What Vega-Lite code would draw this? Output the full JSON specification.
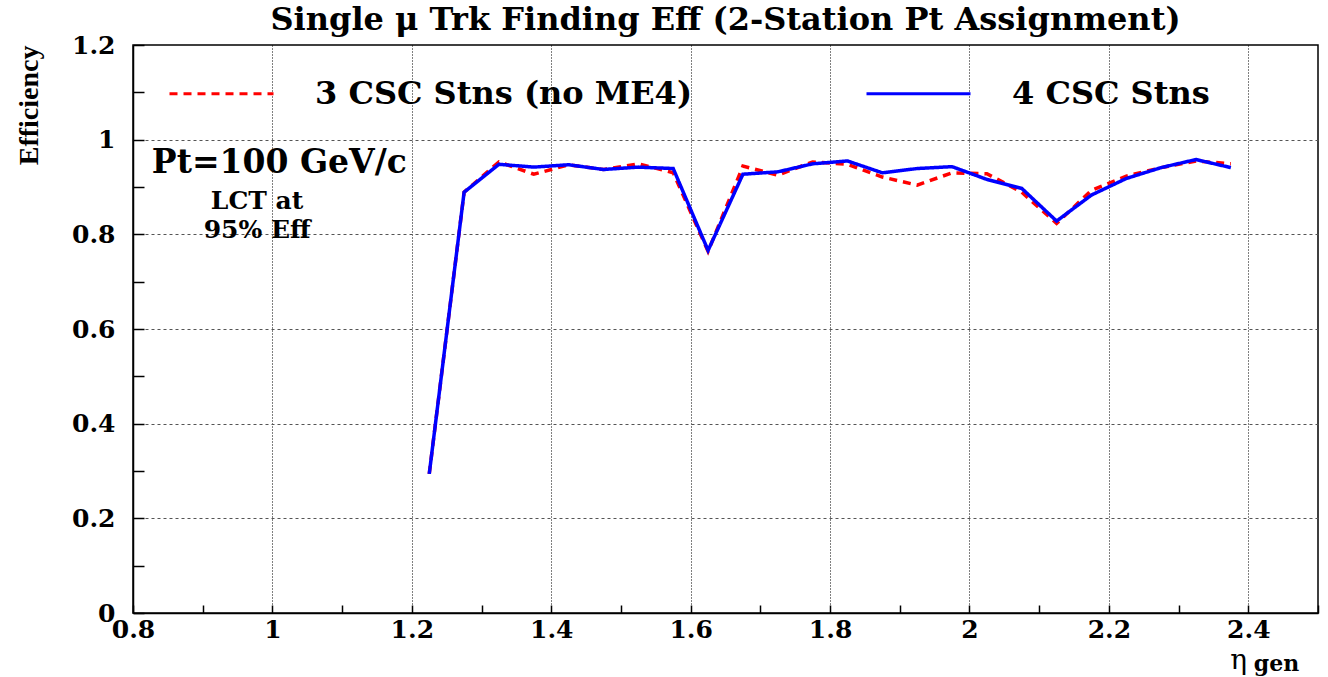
{
  "$schema": "https://vega.github.io/schema/vega-lite/v6.json",
  "width": 1185,
  "height": 568,
  "autosize": "none",
  "padding": {"left": 133, "top": 45, "right": 10, "bottom": 64},
  "background": "white",
  "title": {
    "text": "Single μ Trk Finding Eff (2-Station Pt Assignment)",
    "font": "DejaVu Serif",
    "fontWeight": "bold",
    "fontSize": 32,
    "color": "black",
    "anchor": "middle",
    "offset": -4
  },
  "config": {
    "view": {"stroke": "black", "strokeWidth": 1.5},
    "axis": {
      "labelFont": "DejaVu Serif",
      "labelFontWeight": "bold",
      "labelFontSize": 25,
      "labelColor": "black",
      "domainColor": "black",
      "tickColor": "black",
      "gridColor": "black"
    }
  },
  "data": {
    "values": [
      {"eta": 1.225, "eff": 0.294, "series": "3 CSC Stns (no ME4)"},
      {"eta": 1.275, "eff": 0.889, "series": "3 CSC Stns (no ME4)"},
      {"eta": 1.325, "eff": 0.953, "series": "3 CSC Stns (no ME4)"},
      {"eta": 1.375, "eff": 0.927, "series": "3 CSC Stns (no ME4)"},
      {"eta": 1.425, "eff": 0.947, "series": "3 CSC Stns (no ME4)"},
      {"eta": 1.475, "eff": 0.937, "series": "3 CSC Stns (no ME4)"},
      {"eta": 1.525, "eff": 0.949, "series": "3 CSC Stns (no ME4)"},
      {"eta": 1.575, "eff": 0.930, "series": "3 CSC Stns (no ME4)"},
      {"eta": 1.625, "eff": 0.764, "series": "3 CSC Stns (no ME4)"},
      {"eta": 1.675, "eff": 0.944, "series": "3 CSC Stns (no ME4)"},
      {"eta": 1.725, "eff": 0.925, "series": "3 CSC Stns (no ME4)"},
      {"eta": 1.775, "eff": 0.953, "series": "3 CSC Stns (no ME4)"},
      {"eta": 1.825, "eff": 0.948, "series": "3 CSC Stns (no ME4)"},
      {"eta": 1.875, "eff": 0.921, "series": "3 CSC Stns (no ME4)"},
      {"eta": 1.925, "eff": 0.904, "series": "3 CSC Stns (no ME4)"},
      {"eta": 1.975, "eff": 0.930, "series": "3 CSC Stns (no ME4)"},
      {"eta": 2.025, "eff": 0.928, "series": "3 CSC Stns (no ME4)"},
      {"eta": 2.075, "eff": 0.889, "series": "3 CSC Stns (no ME4)"},
      {"eta": 2.125, "eff": 0.823, "series": "3 CSC Stns (no ME4)"},
      {"eta": 2.175, "eff": 0.893, "series": "3 CSC Stns (no ME4)"},
      {"eta": 2.225, "eff": 0.923, "series": "3 CSC Stns (no ME4)"},
      {"eta": 2.275, "eff": 0.941, "series": "3 CSC Stns (no ME4)"},
      {"eta": 2.325, "eff": 0.955, "series": "3 CSC Stns (no ME4)"},
      {"eta": 2.375, "eff": 0.949, "series": "3 CSC Stns (no ME4)"},
      {"eta": 1.225, "eff": 0.294, "series": "4 CSC Stns"},
      {"eta": 1.275, "eff": 0.889, "series": "4 CSC Stns"},
      {"eta": 1.325, "eff": 0.948, "series": "4 CSC Stns"},
      {"eta": 1.375, "eff": 0.942, "series": "4 CSC Stns"},
      {"eta": 1.425, "eff": 0.947, "series": "4 CSC Stns"},
      {"eta": 1.475, "eff": 0.937, "series": "4 CSC Stns"},
      {"eta": 1.525, "eff": 0.942, "series": "4 CSC Stns"},
      {"eta": 1.575, "eff": 0.939, "series": "4 CSC Stns"},
      {"eta": 1.625, "eff": 0.766, "series": "4 CSC Stns"},
      {"eta": 1.675, "eff": 0.927, "series": "4 CSC Stns"},
      {"eta": 1.725, "eff": 0.932, "series": "4 CSC Stns"},
      {"eta": 1.775, "eff": 0.949, "series": "4 CSC Stns"},
      {"eta": 1.825, "eff": 0.955, "series": "4 CSC Stns"},
      {"eta": 1.875, "eff": 0.930, "series": "4 CSC Stns"},
      {"eta": 1.925, "eff": 0.939, "series": "4 CSC Stns"},
      {"eta": 1.975, "eff": 0.943, "series": "4 CSC Stns"},
      {"eta": 2.025, "eff": 0.916, "series": "4 CSC Stns"},
      {"eta": 2.075, "eff": 0.897, "series": "4 CSC Stns"},
      {"eta": 2.125, "eff": 0.828, "series": "4 CSC Stns"},
      {"eta": 2.175, "eff": 0.883, "series": "4 CSC Stns"},
      {"eta": 2.225, "eff": 0.918, "series": "4 CSC Stns"},
      {"eta": 2.275, "eff": 0.941, "series": "4 CSC Stns"},
      {"eta": 2.325, "eff": 0.958, "series": "4 CSC Stns"},
      {"eta": 2.375, "eff": 0.941, "series": "4 CSC Stns"}
    ]
  },
  "layer": [
    {
      "mark": {"type": "line", "clip": true},
      "encoding": {
        "x": {
          "field": "eta",
          "type": "quantitative",
          "scale": {"domain": [0.8, 2.5], "nice": false, "zero": false},
          "axis": {
            "title": null,
            "values": [0.8, 0.85, 0.9, 0.95, 1, 1.05, 1.1, 1.15, 1.2, 1.25, 1.3, 1.35, 1.4, 1.45, 1.5, 1.55, 1.6, 1.65, 1.7, 1.75, 1.8, 1.85, 1.9, 1.95, 2, 2.05, 2.1, 2.15, 2.2, 2.25, 2.3, 2.35, 2.4, 2.45, 2.5],
            "format": "~g",
            "labelExpr": "abs(datum.value*5 - round(datum.value*5)) < 0.000001 ? datum.label : ''",
            "ticks": true,
            "tickSize": -8,
            "tickWidth": 1.5,
            "grid": true,
            "gridDash": [1, 2],
            "gridWidth": 1,
            "gridOpacity": {"condition": {"test": "abs(datum.value*5 - round(datum.value*5)) < 0.000001 && datum.value > 0.81 && datum.value < 2.49", "value": 1}, "value": 0},
            "labelPadding": 12,
            "labelBaseline": "top",
            "domainWidth": 1.5,
            "labelFlush": false,
            "labelOverlap": false
          }
        },
        "y": {
          "field": "eff",
          "type": "quantitative",
          "scale": {"domain": [0, 1.2], "nice": false, "zero": false},
          "axis": {
            "title": "Efficiency",
            "titleFont": "Liberation Serif",
            "titleFontWeight": "bold",
            "titleFontSize": 28,
            "titleColor": "black",
            "titleAngle": -90,
            "titleAlign": "right",
            "titleBaseline": "middle",
            "titleX": -104,
            "titleY": 0,
            "values": [0, 0.05, 0.1, 0.15, 0.2, 0.25, 0.3, 0.35, 0.4, 0.45, 0.5, 0.55, 0.6, 0.65, 0.7, 0.75, 0.8, 0.85, 0.9, 0.95, 1, 1.05, 1.1, 1.15, 1.2],
            "format": "~g",
            "labelExpr": "abs(datum.value*5 - round(datum.value*5)) < 0.000001 ? datum.label : ''",
            "ticks": true,
            "tickSize": -11,
            "tickWidth": 1.5,
            "grid": true,
            "gridDash": [3, 3],
            "gridWidth": 1,
            "gridColor": "#555555",
            "gridOpacity": {"condition": {"test": "abs(datum.value*5 - round(datum.value*5)) < 0.000001 && datum.value > 0.01 && datum.value < 1.19", "value": 1}, "value": 0},
            "labelPadding": 29,
            "domainWidth": 1.5,
            "labelFlush": false,
            "labelOverlap": false
          }
        },
        "color": {
          "field": "series",
          "type": "nominal",
          "sort": null,
          "scale": {"domain": ["3 CSC Stns (no ME4)", "4 CSC Stns"], "range": ["#ff0000", "#0000ff"]},
          "legend": {
            "title": null,
            "orient": "none",
            "direction": "horizontal",
            "legendX": 35,
            "legendY": -5,
            "symbolType": "stroke",
            "symbolSize": 10816,
            "symbolStrokeWidth": 3,
            "labelFont": "DejaVu Serif",
            "labelFontWeight": "bold",
            "labelFontSize": 32,
            "labelColor": "black",
            "labelOffset": 40,
            "labelLimit": 0,
            "columnPadding": 167
          }
        },
        "strokeDash": {
          "field": "series",
          "type": "nominal",
          "sort": null,
          "scale": {"domain": ["3 CSC Stns (no ME4)", "4 CSC Stns"], "range": [[8, 6], [1, 0]]},
          "legend": {
            "title": null,
            "orient": "none",
            "direction": "horizontal",
            "legendX": 35,
            "legendY": -5,
            "symbolType": "stroke",
            "symbolSize": 10816,
            "symbolStrokeWidth": 3,
            "labelFont": "DejaVu Serif",
            "labelFontWeight": "bold",
            "labelFontSize": 32,
            "labelColor": "black",
            "labelOffset": 40,
            "labelLimit": 0,
            "columnPadding": 167
          }
        },
        "strokeWidth": {"value": 3.5}
      }
    },
    {
      "data": {"values": [
        {"eta": 0.827, "eff": 0.950, "txt": "Pt=100 GeV/c"}
      ]},
      "mark": {"type": "text", "font": "DejaVu Serif", "fontWeight": "bold", "fontSize": 33, "color": "black", "baseline": "middle", "align": "left"},
      "encoding": {
        "x": {"field": "eta", "type": "quantitative"},
        "y": {"field": "eff", "type": "quantitative"},
        "text": {"field": "txt"}
      }
    },
    {
      "data": {"values": [
        {"eta": 0.978, "eff": 0.871, "txt": "LCT at"},
        {"eta": 0.978, "eff": 0.810, "txt": "95% Eff"}
      ]},
      "mark": {"type": "text", "font": "DejaVu Serif", "fontWeight": "bold", "fontSize": 25, "color": "black", "baseline": "middle", "align": "center"},
      "encoding": {
        "x": {"field": "eta", "type": "quantitative"},
        "y": {"field": "eff", "type": "quantitative"},
        "text": {"field": "txt"}
      }
    },
    {
      "data": {"values": [
        {"eta": 2.386, "eff": -0.101, "txt": "η"}
      ]},
      "mark": {"type": "text", "font": "DejaVu Serif", "fontSize": 28, "color": "black", "baseline": "middle", "align": "center", "clip": false},
      "encoding": {
        "x": {"field": "eta", "type": "quantitative"},
        "y": {"field": "eff", "type": "quantitative"},
        "text": {"field": "txt"}
      }
    },
    {
      "data": {"values": [
        {"eta": 2.408, "eff": -0.108, "txt": "gen"}
      ]},
      "mark": {"type": "text", "font": "DejaVu Serif", "fontWeight": "bold", "fontSize": 22, "color": "black", "baseline": "middle", "align": "left", "clip": false},
      "encoding": {
        "x": {"field": "eta", "type": "quantitative"},
        "y": {"field": "eff", "type": "quantitative"},
        "text": {"field": "txt"}
      }
    }
  ]
}
